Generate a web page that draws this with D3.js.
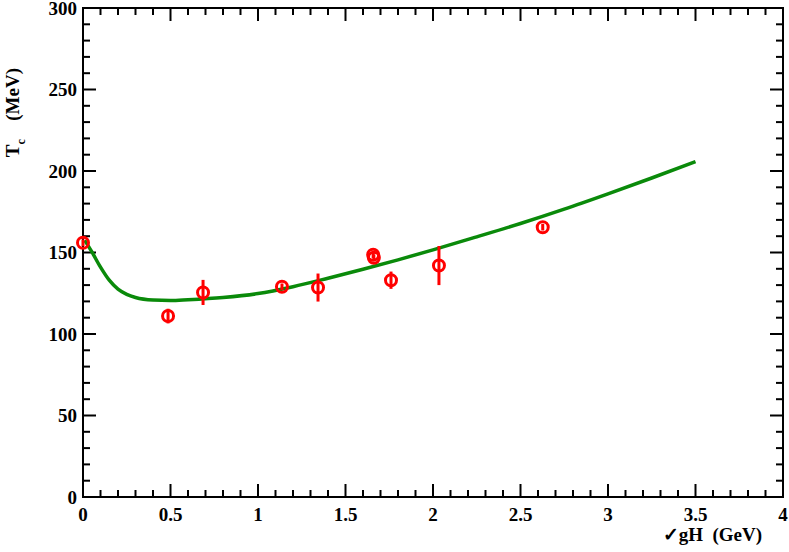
<!DOCTYPE html>
<html>
  <head>
    <script src="https://d3js.org/d3.v7.min.js"></script>
    <style type="text/css">
  body { margin: 0; background: #fff; }
  text { font-family: "Liberation Serif", "Times New Roman", serif; font-weight: bold; fill: #000; }
    </style>
  </head>
  <body>
  <div id="container"></div>
  <script type="text/javascript">

  // lattice points: sqrt(gH) in GeV, Tc in MeV, error
  var pointX = [0.0, 0.486, 0.686, 1.137, 1.343, 1.658, 1.662, 1.76, 2.034, 2.627];
  var pointY = [156, 111, 125.5, 129, 128.5, 148.6, 146.8, 133, 142, 165.5];
  var pointErr = [2, 4.5, 7.7, 2, 8.6, 2, 2, 5.3, 12, 2];

  // model curve
  var curveX = [0.01, 0.05, 0.1, 0.15, 0.2, 0.25, 0.3, 0.4, 0.5, 0.6, 0.8, 1.0, 1.2, 1.4, 1.6, 1.8, 2.0, 2.25, 2.5, 2.75, 3.0, 3.25, 3.5];
  var curveY = [157.5, 150.5, 141, 133, 127.5, 124.3, 122.4, 120.8, 120.5, 121, 122.4, 124.8, 129, 134.2, 139.7, 145.5, 151.6, 159.6, 167.8, 176.6, 186, 195.7, 205.8];

  var xTicks = [0, 0.5, 1, 1.5, 2, 2.5, 3, 3.5, 4];
  var yTicks = [0, 50, 100, 150, 200, 250, 300];

  var width = 789, height = 552;
  var padL = 83, padR = 783, padT = 8, padB = 497;

  var x = d3.scaleLinear().domain([0, 4]).range([padL, padR]);
  var y = d3.scaleLinear().domain([0, 300]).range([padB, padT]);

  var svg = d3.select("#container").append("svg")
      .attr("width", width)
      .attr("height", height);

  // ticks, pointing inward on all four sides
  var xMinor = d3.range(0, 4.0001, 0.1);
  var yMinor = d3.range(0, 300.001, 10);
  function isMajor(v, step) { return Math.abs(v / step - Math.round(v / step)) < 1e-6; }

  var ticks = svg.append("g").attr("stroke", "#000").attr("stroke-width", 2);
  xMinor.forEach(function(v) {
    var len = isMajor(v, 0.5) ? 13 : 7;
    ticks.append("line").attr("x1", x(v)).attr("x2", x(v)).attr("y1", padB).attr("y2", padB - len);
    ticks.append("line").attr("x1", x(v)).attr("x2", x(v)).attr("y1", padT).attr("y2", padT + len);
  });
  yMinor.forEach(function(v) {
    var len = isMajor(v, 50) ? 13 : 7;
    ticks.append("line").attr("y1", y(v)).attr("y2", y(v)).attr("x1", padL).attr("x2", padL + len);
    ticks.append("line").attr("y1", y(v)).attr("y2", y(v)).attr("x1", padR).attr("x2", padR - len);
  });

  svg.append("rect")
      .attr("x", padL).attr("y", padT)
      .attr("width", padR - padL).attr("height", padB - padT)
      .attr("fill", "none").attr("stroke", "#000").attr("stroke-width", 2);

  svg.append("g").selectAll("text")
      .data(xTicks)
    .enter().append("text")
      .attr("x", function(d) { return x(d); })
      .attr("y", 521)
      .attr("text-anchor", "middle")
      .style("font-size", "19px")
      .text(function(d) { return d; });

  svg.append("g").selectAll("text")
      .data(yTicks)
    .enter().append("text")
      .attr("x", 77)
      .attr("y", function(d) { return y(d) + 6.5; })
      .attr("text-anchor", "end")
      .style("font-size", "19px")
      .text(function(d) { return d; });

  svg.append("text")
      .attr("x", 762).attr("y", 541)
      .attr("text-anchor", "end")
      .style("font-size", "19px")
      .style("white-space", "pre")
      .text("\u2713gH  (GeV)");

  var yl = svg.append("text")
      .attr("transform", "translate(19,68) rotate(-90)")
      .attr("text-anchor", "end")
      .style("white-space", "pre")
      .style("font-size", "19px");
  yl.append("tspan").text("T");
  yl.append("tspan").attr("dy", 6).style("font-size", "12px").text("c");
  yl.append("tspan").attr("dy", -6).attr("dx", 9).text("  (MeV)");

  // curve
  var line = d3.line()
      .x(function(d, i) { return x(curveX[i]); })
      .y(function(d) { return y(d); })
      .curve(d3.curveMonotoneX);

  svg.append("path")
      .attr("d", line(curveY))
      .attr("fill", "none")
      .attr("stroke", "#0a8a0a")
      .attr("stroke-width", 3.5);

  // points with error bars
  var pts = svg.append("g").attr("stroke", "#ff0000").attr("stroke-width", 3).attr("fill", "none");
  pointX.forEach(function(px, i) {
    pts.append("line")
        .attr("x1", x(px)).attr("x2", x(px))
        .attr("y1", y(pointY[i] - pointErr[i])).attr("y2", y(pointY[i] + pointErr[i]));
    pts.append("circle")
        .attr("cx", x(px)).attr("cy", y(pointY[i]))
        .attr("r", 5.5);
  });

  </script>
  </body>
</html>
